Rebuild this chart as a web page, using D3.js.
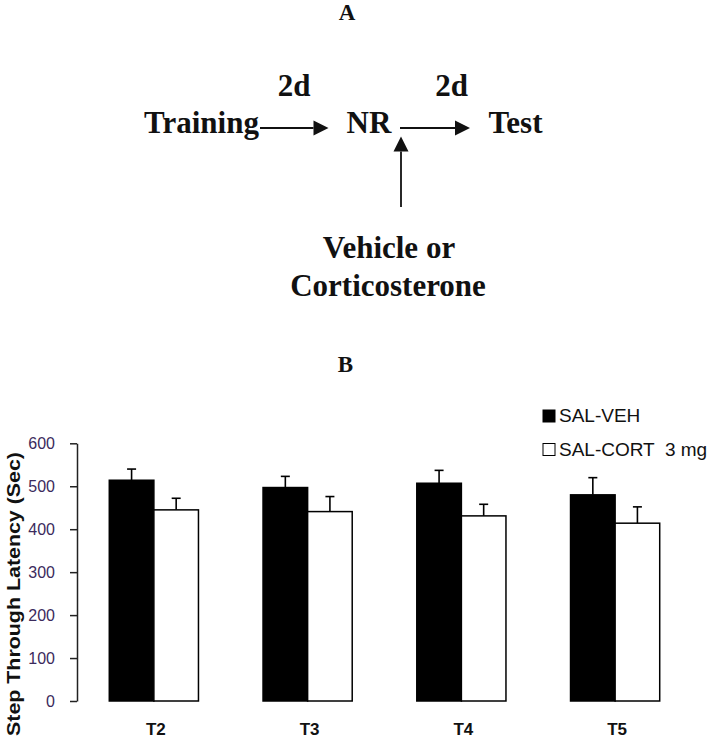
<!DOCTYPE html>
<html>
<head>
<meta charset="utf-8">
<script src="https://cdn.jsdelivr.net/npm/d3@7"></script>
<style>
  html, body { margin: 0; padding: 0; background: #fff; }
  svg { display: block; }
</style>
</head>
<body>
<svg id="chart" width="709" height="739"></svg>
<script>
// ---- Data ----
const categories = ["T2", "T3", "T4", "T5"];
const seriesNames = ["SAL-VEH", "SAL-CORT  3 mg"];
const salVeh = [514, 497, 507, 480];
const salVehErr = [26, 26, 30, 40];
const salCort = [445, 441, 431, 414];
const salCortErr = [27, 35, 27, 38];
const yTicks = [0, 100, 200, 300, 400, 500, 600];

const svg = d3.select("#chart");

// ---- Panel A: timeline diagram ----
const serif = "'Liberation Serif', 'Times New Roman', serif";
const sans = "'Liberation Sans', Arial, sans-serif";
const diag = svg.append("g");
const diagLabels = [
  {t: "A", x: 347, y: 20, s: 23},
  {t: "2d", x: 294, y: 96, s: 31},
  {t: "2d", x: 451.5, y: 96, s: 31},
  {t: "Training", x: 201.5, y: 133, s: 31},
  {t: "NR", x: 369, y: 133, s: 31},
  {t: "Test", x: 515.5, y: 133, s: 31},
  {t: "Vehicle or", x: 389, y: 258, s: 31},
  {t: "Corticosterone", x: 388, y: 296, s: 31},
  {t: "B", x: 345.5, y: 372, s: 23}
];
diag.selectAll("text").data(diagLabels).join("text")
  .attr("x", d => d.x).attr("y", d => d.y)
  .attr("text-anchor", "middle")
  .attr("font-family", serif).attr("font-weight", "bold")
  .attr("font-size", d => d.s).attr("fill", "#111")
  .text(d => d.t);

function arrow(x1, y1, x2, y2) {
  const ang = Math.atan2(y2 - y1, x2 - x1);
  const hl = 15, hw = 7.5;
  const bx = x2 - hl * Math.cos(ang), by = y2 - hl * Math.sin(ang);
  diag.append("line").attr("x1", x1).attr("y1", y1).attr("x2", bx).attr("y2", by)
    .attr("stroke", "#111").attr("stroke-width", 1.8);
  const px = -Math.sin(ang), py = Math.cos(ang);
  diag.append("path")
    .attr("d", `M${x2},${y2}L${bx + px * hw},${by + py * hw}L${bx - px * hw},${by - py * hw}Z`)
    .attr("fill", "#111");
}
arrow(260, 128, 328.5, 128);
arrow(400, 128, 470, 128);
arrow(401, 207, 401, 136.5);

// ---- Panel B: bar chart ----
const x0 = d3.scaleBand().domain(categories).range([77, 692]).paddingInner(0.42).paddingOuter(0.21);
const x1 = d3.scaleBand().domain(seriesNames).range([0, x0.bandwidth()]);
const y = d3.scaleLinear().domain([0, 600]).range([701, 443.3]);
const fills = ["#000", "#fff"];

const data = categories.map((c, i) => ({
  cat: c,
  vals: [
    {s: seriesNames[0], v: salVeh[i], e: salVehErr[i]},
    {s: seriesNames[1], v: salCort[i], e: salCortErr[i]}
  ]
}));

const groups = svg.append("g").selectAll("g").data(data).join("g")
  .attr("transform", d => `translate(${x0(d.cat)},0)`);

// error bars
groups.selectAll("g.err").data(d => d.vals).join("g").attr("class", "err")
  .each(function(d) {
    const g = d3.select(this);
    const cx = x1(d.s) + x1.bandwidth() / 2;
    g.append("line").attr("x1", cx).attr("x2", cx).attr("y1", y(d.v)).attr("y2", y(d.v + d.e))
      .attr("stroke", "#000").attr("stroke-width", 1.6);
    g.append("line").attr("x1", cx - 4.5).attr("x2", cx + 4.5).attr("y1", y(d.v + d.e)).attr("y2", y(d.v + d.e))
      .attr("stroke", "#000").attr("stroke-width", 1.6);
  });

groups.selectAll("rect").data(d => d.vals).join("rect")
  .attr("x", d => x1(d.s))
  .attr("width", x1.bandwidth())
  .attr("y", d => y(d.v))
  .attr("height", d => y(0) - y(d.v))
  .attr("fill", (d, i) => fills[i])
  .attr("stroke", "#000").attr("stroke-width", 1.5);

// y axis
const yAxis = svg.append("g").attr("transform", "translate(77,0)")
  .call(d3.axisLeft(y).tickValues(yTicks).tickSize(7).tickSizeOuter(0).tickPadding(15));
yAxis.select(".domain").attr("stroke", "#222").attr("stroke-width", 1.5);
yAxis.selectAll(".tick line").attr("stroke", "#222").attr("stroke-width", 1.5);
yAxis.selectAll(".tick text")
  .attr("font-family", sans).attr("font-size", 16).attr("fill", "#3b2a5c");

// y axis title
svg.append("text")
  .attr("transform", "translate(20,594) rotate(-90)")
  .attr("text-anchor", "middle")
  .attr("font-family", sans).attr("font-weight", "bold").attr("font-size", 18)
  .attr("textLength", 284).attr("lengthAdjust", "spacingAndGlyphs")
  .attr("fill", "#111")
  .text("Step Through Latency (Sec)");

// x category labels
svg.append("g").selectAll("text").data(categories).join("text")
  .attr("x", d => x0(d) + x0.bandwidth() / 2 + 2)
  .attr("y", 735)
  .attr("text-anchor", "middle")
  .attr("font-family", sans).attr("font-weight", "bold").attr("font-size", 17)
  .attr("fill", "#111")
  .text(d => d);

// legend
const legend = svg.append("g").selectAll("g").data(seriesNames).join("g")
  .attr("transform", (d, i) => `translate(543,${410 + i * 33.5})`);
legend.append("rect").attr("width", 12).attr("height", 12)
  .attr("fill", (d, i) => fills[i]).attr("stroke", "#000").attr("stroke-width", 1);
legend.append("text").attr("x", 16).attr("y", 12)
  .attr("font-family", sans).attr("font-size", 19).attr("fill", "#111")
  .attr("xml:space", "preserve").style("white-space", "pre")
  .text(d => d);
</script>
</body>
</html>
